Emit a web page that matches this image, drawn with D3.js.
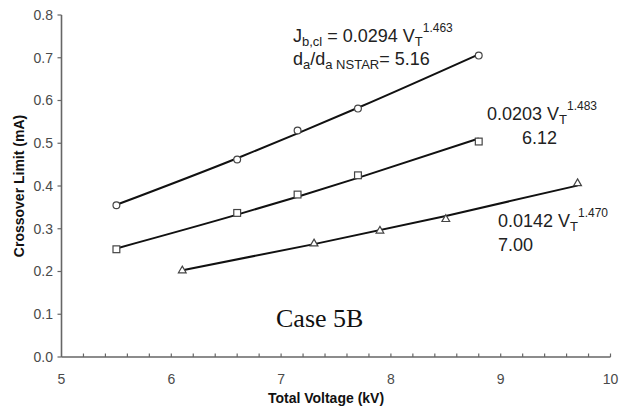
<!DOCTYPE html>
<html>
<head>
<meta charset="utf-8">
<script src="https://cdn.jsdelivr.net/npm/d3@7"></script>
<style>
  body { margin: 0; background: #fff; }
  svg text { font-family: Arial, "Liberation Sans", sans-serif; }
  .tick_lbl { font-size: 14px; fill: #4a4a4a; }
  .axis_title { font-size: 14px; font-weight: bold; fill: #111; }
  .note { font-size: 18px; fill: #222; }
</style>
</head>
<body>
<div id="box1" style="width:623px;height:412px;">
  <svg id="box1_svg"></svg>
</div>
<script>
"use strict";

// data
const x_circle = [5.5, 6.6, 7.15, 7.7, 8.8];
const y_circle = [0.355, 0.462, 0.530, 0.581, 0.705];
const x_square = [5.5, 6.6, 7.15, 7.7, 8.8];
const y_square = [0.252, 0.337, 0.380, 0.425, 0.504];
const x_tri = [6.1, 7.3, 7.9, 8.5, 9.7];
const y_tri = [0.201, 0.264, 0.294, 0.321, 0.405];

// fitted trend lines (values along each line)
const fit_x_circle = [5.5, 6.6, 7.15, 7.7, 8.8];
const fit_y_circle = [0.356, 0.465, 0.523, 0.583, 0.708];
const fit_x_square = [5.5, 6.6, 7.15, 7.7, 8.8];
const fit_y_square = [0.254, 0.333, 0.375, 0.419, 0.511];
const fit_x_tri = [6.1, 7.3, 8.5, 9.7];
const fit_y_tri = [0.203, 0.264, 0.330, 0.401];

const x_ticks = [5, 6, 7, 8, 9, 10];
const y_ticks = [0.0, 0.1, 0.2, 0.3, 0.4, 0.5, 0.6, 0.7, 0.8];

const W = 623, H = 412;
const svg = d3.select("#box1_svg").attr("width", W).attr("height", H);

const x = d3.scaleLinear().domain([5, 10]).range([61.5, 610.5]);
const y = d3.scaleLinear().domain([0, 0.8]).range([357, 15]);

const axis_col = "#666";

// x axis: line, inner minor ticks every 0.2
const gx = svg.append("g");
gx.append("line")
  .attr("x1", x(5)).attr("x2", x(10))
  .attr("y1", y(0)).attr("y2", y(0))
  .attr("stroke", axis_col).attr("stroke-width", 1.6);
gx.selectAll(".xt").data(d3.range(5.2, 10.01, 0.2))
  .join("line")
  .attr("x1", d => x(d)).attr("x2", d => x(d))
  .attr("y1", y(0)).attr("y2", y(0) - 3.5)
  .attr("stroke", axis_col).attr("stroke-width", 1.2);
gx.selectAll(".xl").data(x_ticks)
  .join("text")
  .attr("class", "tick_lbl")
  .attr("x", d => x(d)).attr("y", 384)
  .attr("text-anchor", "middle")
  .text(d => d);

// y axis
const gy = svg.append("g");
gy.append("line")
  .attr("x1", x(5)).attr("x2", x(5))
  .attr("y1", y(0)).attr("y2", y(0.8))
  .attr("stroke", axis_col).attr("stroke-width", 1.6);
gy.selectAll(".yt").data(y_ticks)
  .join("line")
  .attr("x1", x(5) - 4).attr("x2", x(5))
  .attr("y1", d => y(d)).attr("y2", d => y(d))
  .attr("stroke", axis_col).attr("stroke-width", 1.2);
gy.selectAll(".yl").data(y_ticks)
  .join("text")
  .attr("class", "tick_lbl")
  .attr("x", 53).attr("y", d => y(d))
  .attr("dy", "0.35em")
  .attr("text-anchor", "end")
  .text(d => d3.format(".1f")(d));

// axis titles
svg.append("text").attr("class", "axis_title")
  .attr("x", 326).attr("y", 403)
  .attr("text-anchor", "middle")
  .text("Total Voltage (kV)");
svg.append("text").attr("class", "axis_title")
  .attr("transform", "translate(24,186) rotate(-90)")
  .attr("text-anchor", "middle")
  .text("Crossover Limit (mA)");

// trend lines
const line = d3.line().x(d => x(d[0])).y(d => y(d[1])).curve(d3.curveMonotoneX);
const fits = [
  d3.zip(fit_x_circle, fit_y_circle),
  d3.zip(fit_x_square, fit_y_square),
  d3.zip(fit_x_tri, fit_y_tri)
];
svg.selectAll(".fit").data(fits)
  .join("path")
  .attr("d", line)
  .attr("fill", "none")
  .attr("stroke", "#111")
  .attr("stroke-width", 2);

// markers
const mk_col = "#444";
svg.selectAll(".mc").data(d3.zip(x_circle, y_circle))
  .join("circle")
  .attr("cx", d => x(d[0])).attr("cy", d => y(d[1])).attr("r", 3.4)
  .attr("fill", "#fff").attr("stroke", mk_col).attr("stroke-width", 1.2);
svg.selectAll(".ms").data(d3.zip(x_square, y_square))
  .join("rect")
  .attr("x", d => x(d[0]) - 3.4).attr("y", d => y(d[1]) - 3.4)
  .attr("width", 6.8).attr("height", 6.8)
  .attr("fill", "#fff").attr("stroke", mk_col).attr("stroke-width", 1.2);
const tri = d3.symbol().type(d3.symbolTriangle).size(26);
svg.selectAll(".mt").data(d3.zip(x_tri, y_tri))
  .join("path")
  .attr("d", tri)
  .attr("transform", d => `translate(${x(d[0])},${y(d[1]) - 0.5})`)
  .attr("fill", "#fff").attr("stroke", mk_col).attr("stroke-width", 1.2);

// annotations
const t1 = svg.append("text").attr("class", "note").attr("x", 293).attr("y", 42);
t1.append("tspan").text("J");
t1.append("tspan").attr("font-size", 13).attr("dy", 4).text("b,cl");
t1.append("tspan").attr("dy", -4).text(" = 0.0294 V");
t1.append("tspan").attr("font-size", 13).attr("dy", 4).text("T");
t1.append("tspan").attr("font-size", 12).attr("dy", -14).text("1.463");

const t2 = svg.append("text").attr("class", "note").attr("x", 293).attr("y", 65);
t2.append("tspan").text("d");
t2.append("tspan").attr("font-size", 13).attr("dy", 4).text("a");
t2.append("tspan").attr("dy", -4).text("/d");
t2.append("tspan").attr("font-size", 13).attr("dy", 4).text("a NSTAR");
t2.append("tspan").attr("dy", -4).text("= 5.16");

const t3 = svg.append("text").attr("class", "note").attr("x", 487).attr("y", 120);
t3.append("tspan").text("0.0203 V");
t3.append("tspan").attr("font-size", 13).attr("dy", 4).text("T");
t3.append("tspan").attr("font-size", 12).attr("dy", -14).text("1.483");
svg.append("text").attr("class", "note").attr("x", 522).attr("y", 144).text("6.12");

const t4 = svg.append("text").attr("class", "note").attr("x", 498).attr("y", 227);
t4.append("tspan").text("0.0142 V");
t4.append("tspan").attr("font-size", 13).attr("dy", 4).text("T");
t4.append("tspan").attr("font-size", 12).attr("dy", -14).text("1.470");
svg.append("text").attr("class", "note").attr("x", 498).attr("y", 251).text("7.00");

svg.append("text")
  .attr("x", 276).attr("y", 327)
  .style("font-family", "'Times New Roman', 'Liberation Serif', serif")
  .attr("font-size", 26).attr("fill", "#111")
  .text("Case 5B");
</script>
</body>
</html>
